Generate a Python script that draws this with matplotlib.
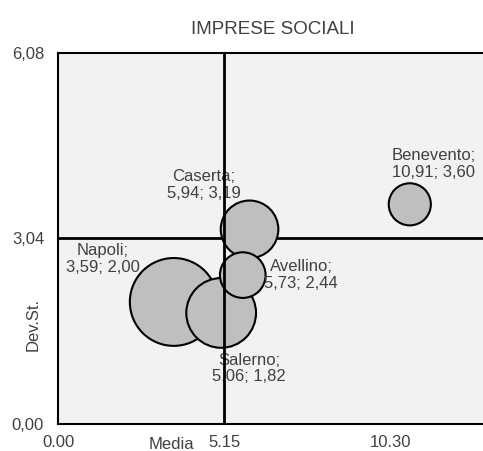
import matplotlib
matplotlib.use("Agg")
import matplotlib.pyplot as plt

plt.rcParams['font.family'] = ['Liberation Sans', 'DejaVu Sans']

# dati: media, deviazione standard e peso relativo delle bolle
province = ['Napoli', 'Salerno', 'Caserta', 'Avellino', 'Benevento']
media = [3.59, 5.06, 5.94, 5.73, 10.91]
dev_st = [2.00, 1.82, 3.19, 2.44, 3.60]
dimensione = [100, 63, 43, 27, 23]

media_tot = 5.15
dev_st_tot = 3.04

x_ticks = [0.00, 5.15, 10.30]
x_tick_labels = ['0.00', '5.15', '10.30']
y_ticks = [0.00, 3.04, 6.08]
y_tick_labels = ['0,00', '3,04', '6,08']

# offset delle etichette (punti)
offsets = {
    'Napoli': (-51, 31),
    'Salerno': (20, -40),
    'Caserta': (-33, 32),
    'Avellino': (42, 0),
    'Benevento': (17, 29),
}

fig = plt.figure(figsize=(4.83, 4.51), dpi=100)
ax = fig.add_axes([0.1201, 0.0599, 0.8799 + 0.01, 0.8226])
ax.set_facecolor('#f2f2f2')

ax.axhline(dev_st_tot, color='black', lw=2, zorder=1)
ax.scatter(media, dev_st, s=[d * 40 for d in dimensione], c='#bfbfbf',
           edgecolors='black', linewidths=1.5, zorder=2)
ax.axvline(media_tot, color='black', lw=2, zorder=4)

for nome, x, y in zip(province, media, dev_st):
    testo = f"{nome};\n{x:.2f}; {y:.2f}".replace('.', ',')
    ax.annotate(testo, (x, y), xytext=offsets[nome], textcoords='offset points',
                ha='center', va='center', fontsize=12, color='#404040',
                linespacing=1.15, zorder=3)

ax.set_xlim(0, 13.03 + 0.3)
ax.set_ylim(0, 6.08)
ax.set_xticks(x_ticks)
ax.set_xticklabels(x_tick_labels)
ax.set_yticks(y_ticks)
ax.set_yticklabels(y_tick_labels)
ax.tick_params(length=0, labelsize=12, labelcolor='#404040')
ax.tick_params(axis='y', pad=10)
ax.tick_params(axis='x', pad=8)

for lato in ['left', 'bottom', 'top']:
    ax.spines[lato].set_linewidth(1.5)
ax.spines['right'].set_visible(False)

ax.set_title('IMPRESE SOCIALI', fontsize=13.5, color='#404040', pad=14)
ax.text(0.265, -0.034, 'Media', transform=ax.transAxes, ha='center', va='top',
        fontsize=12, color='#404040')
ax.text(-0.059, 0.267, 'Dev.St.', transform=ax.transAxes, ha='center', va='center',
        rotation=90, fontsize=12, color='#404040')

fig.savefig('out.png', dpi=100)
